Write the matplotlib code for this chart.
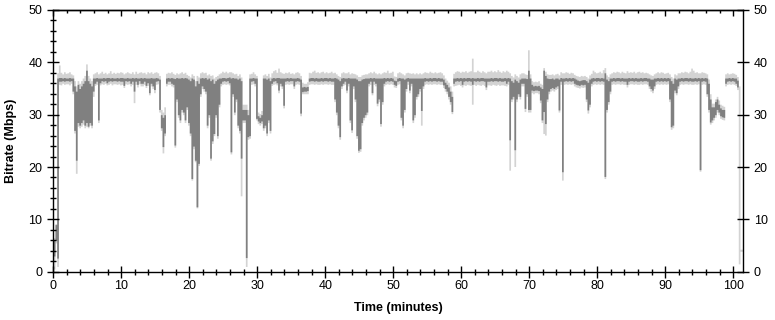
import numpy as np
import matplotlib
matplotlib.use("Agg")
import matplotlib.pyplot as plt
from matplotlib.ticker import MultipleLocator

nan = float("nan")
bin_minutes = 0.25  # each value covers a quarter minute

# dark (averaged) series: low / high of each quarter-minute bin (Mbps)
dark_lo = [
    3.0, 6.0, 2.6, 36.4,  36.4, 36.5, 36.4, 36.5,  36.5, 36.4, 36.5, 34.5,  27.0, 21.3, 28.5, 28.0,
    28.5, 29.0, 28.0, 28.5,  27.8, 28.5, 28.0, 34.5,  36.0, 36.4, 29.0, 36.1,  36.5, 36.4, 36.5, 36.1,
    36.4, 36.5, 36.4, 36.5,  36.5, 36.4, 36.5, 36.4,  36.4, 35.6, 36.5, 36.4,  36.5, 36.0, 36.4, 34.5,
    36.4, 35.8, 36.5, 36.0,  36.0, 36.4, 35.6, 36.1,  34.2, 36.0, 35.5, 34.8,  36.4, 36.5, 31.0, 27.5,
    23.9, 26.5, 36.0, 36.4,  36.4, 36.0, 35.8, 24.2,  33.0, 30.0, 29.0, 31.0,  30.5, 29.0, 31.5, 28.5,
    26.5, 17.8, 24.0, 21.3,  12.4, 20.7, 34.0, 35.5,  35.0, 34.5, 28.0, 30.0,  21.7, 25.0, 26.4, 30.0,
    26.0, 32.0, 36.0, 36.4,  36.5, 36.4, 36.5, 36.1,  22.9, 34.0, 30.5, 33.0,  28.0, 27.0, 21.7, 29.0,
    29.0, 2.7, 25.8, 26.0,  36.4, 36.5, 36.0, 29.3,  28.8, 28.5, 28.8, 27.5,  28.0, 26.5, 29.0, 27.0,
    36.0, 36.4, 36.5, 36.1,  34.7, 36.0, 35.5, 31.8,  36.4, 36.5, 36.4, 36.5,  36.5, 35.5, 36.4, 36.5,
    36.4, 30.3, 34.4, 34.5,  34.5, 34.6, 36.4, 36.5,  36.5, 36.4, 36.5, 36.4,  36.4, 36.5, 36.4, 36.5,
    36.5, 36.4, 36.5, 36.4,  36.4, 33.0, 30.5, 28.0,  25.8, 35.5, 36.0, 36.4,  34.7, 36.0, 29.0, 27.1,
    35.5, 33.0, 26.0, 23.2,  23.5, 28.5, 29.5, 30.0,  30.5, 36.0, 36.4, 34.2,  36.4, 36.0, 32.2, 33.0,
    28.3, 32.5, 36.0, 36.4,  36.5, 36.4, 36.5, 36.4,  35.8, 35.6, 36.4, 36.5,  29.5, 28.0, 31.0, 35.0,
    36.4, 34.7, 36.0, 29.0,  30.0, 33.5, 34.0, 35.0,  30.8, 35.5, 36.4, 36.5,  36.4, 36.5, 36.4, 36.5,
    36.5, 36.4, 36.5, 36.4,  36.4, 35.7, 35.0, 34.5,  33.5, 32.5, 30.6, 36.0,  36.4, 36.5, 36.4, 36.5,
    35.8, 36.4, 36.5, 36.4,  36.5, 36.4, 35.8, 36.5,  36.4, 36.5, 36.4, 36.5,  36.5, 36.4, 35.3, 36.4,
    36.4, 36.5, 36.4, 36.5,  36.5, 36.4, 36.5, 36.4,  36.4, 36.5, 36.0, 36.4,  25.2, 33.0, 33.5, 23.3,
    33.0, 34.0, 33.5, 36.0,  36.0, 31.2, 34.0, 31.0,  31.0, 34.7, 34.6, 34.7,  34.7, 34.6, 32.8, 29.0,
    30.6, 28.3, 33.0, 34.5,  35.0, 35.2, 35.0, 35.3,  35.5, 30.9, 36.4, 19.1,  36.4, 36.5, 36.4, 36.5,
    36.4, 36.5, 36.0, 35.8,  35.7, 35.6, 35.8, 35.7,  35.8, 33.0, 30.9, 32.0,  36.0, 36.4, 36.5, 36.4,
    36.5, 36.4, 36.5, 36.4,  18.2, 31.0, 32.5, 34.5,  36.4, 36.5, 36.4, 36.5,  36.5, 36.4, 36.5, 36.4,
    36.4, 35.8, 36.4, 36.5,  36.5, 36.4, 36.5, 36.4,  36.4, 36.5, 36.4, 36.5,  36.5, 36.4, 35.5, 35.0,
    34.7, 35.5, 36.4, 36.5,  36.4, 36.5, 36.4, 36.5,  36.4, 36.5, 33.0, 27.7,  28.0, 34.7, 34.2, 35.5,
    36.4, 36.5, 36.4, 36.5,  36.5, 36.4, 36.5, 36.4,  36.4, 36.5, 36.4, 36.5,  19.5, 36.4, 36.5, 36.4,
    34.0, 31.0, 28.6, 29.0,  29.5, 30.0, 31.0, 30.5,  29.8, 29.6, 29.5, 36.0,  36.4, 36.5, 36.4, 36.5,
    36.4, 36.0, 35.3, 1.6,  nan, nan,
]
dark_hi = [
    6.0, 9.0, 37.0, 37.1,  37.1, 37.0, 37.1, 37.0,  37.0, 37.1, 37.0, 37.0,  35.5, 34.5, 35.8, 35.0,
    35.5, 36.0, 36.5, 38.5,  36.5, 36.0, 35.5, 37.0,  37.0, 37.1, 37.0, 37.0,  37.0, 37.1, 37.0, 37.1,
    37.1, 37.0, 37.1, 37.0,  37.0, 37.1, 37.0, 37.1,  37.1, 37.0, 37.0, 37.1,  37.0, 37.0, 37.1, 37.0,
    37.1, 37.0, 37.0, 37.1,  37.0, 37.1, 37.0, 37.0,  37.0, 37.1, 37.0, 37.0,  37.1, 37.0, 36.8, 30.0,
    29.5, 30.0, 37.0, 37.1,  37.0, 37.1, 37.0, 36.9,  37.1, 37.0, 37.0, 37.1,  37.0, 37.1, 37.0, 36.8,
    36.5, 37.0, 36.8, 35.5,  36.5, 36.0, 37.0, 37.1,  37.0, 37.1, 36.8, 37.0,  36.5, 36.8, 36.0, 36.5,
    36.8, 37.0, 37.0, 37.1,  37.1, 37.0, 37.1, 37.2,  37.0, 37.1, 37.0, 37.0,  36.8, 37.0, 36.5, 31.0,
    31.0, 31.0, 30.0, 37.0,  37.0, 37.1, 37.0, 37.0,  29.8, 29.5, 30.0, 37.0,  37.0, 36.8, 37.0, 36.5,
    37.0, 37.1, 37.0, 37.1,  37.1, 37.0, 37.0, 37.0,  37.0, 37.1, 37.0, 37.1,  37.0, 37.0, 37.0, 37.1,
    37.0, 36.8, 35.3, 35.4,  35.3, 35.4, 37.0, 37.1,  37.1, 37.0, 37.1, 37.0,  37.0, 37.1, 37.0, 37.1,
    37.1, 37.0, 37.1, 37.0,  37.0, 37.1, 37.0, 36.8,  36.5, 37.0, 37.1, 37.0,  37.0, 37.1, 37.0, 37.0,
    37.0, 37.0, 36.8, 36.5,  36.5, 36.8, 36.9, 37.0,  37.0, 37.0, 37.1, 37.0,  37.1, 37.0, 37.0, 37.0,
    37.0, 37.0, 37.1, 37.0,  37.1, 37.0, 37.1, 37.0,  36.6, 36.5, 37.0, 37.1,  37.0, 37.0, 36.8, 37.0,
    37.1, 37.0, 37.0, 37.0,  37.0, 37.0, 37.0, 37.0,  37.0, 37.0, 37.1, 37.0,  37.0, 37.1, 37.0, 37.1,
    37.1, 37.0, 37.1, 37.0,  37.0, 36.8, 36.2, 35.8,  35.3, 34.5, 33.5, 37.0,  37.0, 37.1, 37.0, 37.1,
    37.0, 37.1, 37.0, 37.1,  37.1, 37.0, 37.1, 37.0,  37.0, 37.1, 37.0, 37.1,  37.1, 37.0, 37.0, 37.0,
    37.0, 37.1, 37.0, 37.1,  37.1, 37.0, 37.1, 37.0,  37.0, 37.1, 37.0, 37.1,  37.0, 36.5, 36.2, 36.8,
    36.5, 36.2, 36.8, 37.0,  37.0, 37.0, 36.9, 38.5,  37.0, 35.8, 35.5, 35.6,  35.5, 35.6, 35.3, 35.0,
    38.5, 37.5, 37.0, 36.9,  36.9, 37.0, 36.8, 37.0,  37.0, 36.8, 37.1, 37.0,  37.0, 37.1, 37.0, 37.1,
    37.0, 37.1, 37.0, 36.8,  36.6, 36.5, 36.6, 36.7,  36.7, 36.5, 36.2, 36.8,  37.0, 37.1, 37.0, 37.1,
    37.1, 37.0, 37.1, 37.0,  38.0, 36.8, 36.5, 37.0,  37.0, 37.1, 37.0, 37.1,  37.1, 37.0, 37.1, 37.0,
    37.0, 37.0, 37.1, 37.0,  37.1, 37.0, 37.1, 37.0,  37.0, 37.1, 37.0, 37.1,  37.1, 37.0, 37.0, 36.8,
    36.8, 37.0, 37.0, 37.1,  37.0, 37.1, 37.0, 37.1,  37.0, 37.1, 37.0, 36.5,  36.0, 37.0, 36.8, 37.0,
    37.0, 37.1, 37.0, 37.1,  37.1, 37.0, 37.1, 37.0,  37.0, 37.1, 37.0, 37.1,  37.0, 37.1, 37.0, 37.1,
    37.0, 36.0, 33.0, 31.5,  31.5, 32.5, 33.0, 32.0,  31.3, 31.0, 31.0, 37.0,  37.0, 37.1, 37.0, 37.1,
    37.0, 37.0, 36.6, 35.0,  nan, nan,
]
# light (peak) series: low / high of each quarter-minute bin (Mbps)
light_lo = [
    0.5, 5.5, 1.0, 35.8,  35.7, 36.0, 35.8, 35.9,  35.9, 35.7, 36.0, 34.0,  26.5, 18.8, 27.8, 27.5,
    27.8, 28.2, 27.5, 27.8,  27.5, 28.0, 27.5, 33.5,  35.6, 35.8, 28.5, 35.7,  35.9, 35.8, 36.0, 35.7,
    35.8, 36.0, 35.7, 35.9,  35.9, 35.8, 35.9, 35.7,  35.8, 35.2, 35.9, 35.8,  35.9, 35.5, 35.8, 32.3,
    35.8, 35.3, 35.9, 35.5,  35.5, 35.8, 35.2, 35.6,  33.8, 35.5, 35.0, 34.2,  35.8, 35.9, 30.5, 27.0,
    22.7, 26.0, 35.5, 35.8,  35.8, 35.5, 35.3, 23.8,  32.5, 29.5, 28.5, 30.5,  30.0, 28.5, 31.0, 28.0,
    26.0, 17.5, 23.5, 21.0,  12.2, 20.3, 33.5, 35.0,  34.5, 34.0, 27.5, 29.5,  21.3, 24.5, 26.0, 29.5,
    25.5, 31.5, 35.5, 35.8,  35.9, 35.8, 35.9, 35.7,  22.5, 33.5, 30.0, 32.5,  27.5, 26.5, 14.5, 28.5,
    28.5, 1.0, 25.3, 25.5,  35.8, 35.9, 35.5, 29.0,  28.3, 28.0, 28.3, 27.0,  27.5, 26.0, 28.5, 26.5,
    35.6, 35.8, 35.9, 35.7,  34.2, 35.5, 35.0, 31.3,  35.8, 35.9, 35.8, 35.9,  35.9, 35.0, 35.8, 35.9,
    35.8, 29.8, 34.0, 34.0,  34.0, 34.0, 35.8, 35.9,  35.9, 35.8, 35.9, 35.8,  35.8, 35.9, 35.8, 35.9,
    35.9, 35.8, 35.9, 35.8,  35.8, 32.5, 30.0, 27.5,  25.3, 35.0, 35.6, 35.8,  34.2, 35.5, 28.5, 26.6,
    35.0, 32.5, 25.5, 22.8,  23.0, 28.0, 29.0, 29.5,  30.0, 35.5, 35.8, 33.8,  35.8, 35.5, 31.7, 32.5,
    27.8, 32.0, 35.5, 35.8,  35.9, 35.8, 35.9, 35.8,  35.3, 35.2, 35.8, 35.9,  29.0, 27.5, 30.5, 34.5,
    35.8, 34.2, 35.5, 28.5,  29.5, 33.0, 33.5, 34.5,  28.0, 35.0, 35.8, 35.9,  35.8, 35.9, 35.8, 35.9,
    35.9, 35.8, 35.9, 35.8,  35.8, 35.2, 34.5, 34.0,  33.0, 32.0, 30.2, 35.5,  35.6, 35.7, 35.8, 35.6,
    35.3, 35.7, 35.6, 35.8,  35.7, 35.6, 32.0, 35.8,  35.6, 35.8, 35.7, 35.6,  35.8, 35.6, 34.8, 35.7,
    35.7, 35.6, 35.8, 35.7,  35.6, 35.8, 35.6, 35.7,  35.7, 35.6, 35.5, 35.8,  19.4, 32.5, 33.0, 20.1,
    32.5, 33.5, 33.0, 35.5,  35.5, 30.6, 33.5, 30.5,  30.5, 34.2, 34.0, 34.2,  34.2, 34.0, 32.3, 28.5,
    26.4, 26.1, 32.5, 34.0,  34.5, 34.7, 34.5, 34.8,  35.0, 30.5, 35.8, 17.5,  35.8, 35.9, 35.8, 35.9,
    35.8, 35.9, 35.5, 35.3,  35.2, 35.1, 35.3, 35.2,  35.3, 32.5, 30.3, 31.5,  35.5, 35.8, 35.9, 35.8,
    35.9, 35.8, 35.9, 35.8,  17.8, 30.5, 32.0, 34.0,  35.8, 35.9, 35.8, 35.9,  35.9, 35.8, 35.9, 35.8,
    35.8, 35.3, 35.8, 35.9,  35.9, 35.8, 35.9, 35.8,  35.8, 35.9, 35.8, 35.9,  35.9, 35.8, 35.0, 34.5,
    34.2, 35.0, 35.8, 35.9,  35.8, 35.9, 35.8, 35.9,  35.8, 35.9, 32.5, 27.2,  27.5, 34.2, 33.8, 35.0,
    35.8, 35.9, 35.8, 35.9,  35.9, 35.8, 35.9, 35.8,  35.8, 35.9, 35.8, 35.9,  19.2, 35.8, 35.9, 35.8,
    33.5, 30.5, 28.2, 28.5,  29.0, 29.5, 30.5, 30.0,  29.3, 29.1, 29.0, 35.5,  35.8, 35.9, 35.8, 35.9,
    35.8, 35.6, 34.8, 1.5,  3.9, 3.9,
]
light_hi = [
    6.5, 9.2, 38.0, 39.5,  38.1, 37.8, 38.2, 37.9,  38.0, 38.2, 37.8, 37.6,  36.5, 35.5, 36.5, 36.0,
    36.5, 37.0, 37.5, 39.7,  37.5, 37.0, 36.5, 37.8,  38.0, 38.2, 37.8, 38.0,  38.3, 37.9, 38.1, 37.8,
    38.0, 38.4, 37.9, 38.1,  37.9, 38.1, 38.0, 38.2,  38.1, 37.8, 38.0, 38.2,  38.0, 37.9, 38.2, 37.8,
    38.3, 37.9, 38.1, 38.2,  38.0, 38.1, 37.8, 38.2,  38.0, 38.2, 37.9, 38.1,  38.2, 38.0, 37.5, 31.0,
    30.5, 31.5, 37.9, 38.1,  38.0, 38.2, 37.9, 37.7,  38.0, 37.8, 38.0, 38.2,  37.9, 38.1, 37.7, 37.5,
    37.2, 37.8, 37.5, 36.5,  37.5, 37.2, 38.0, 38.2,  38.0, 38.1, 37.6, 37.8,  37.5, 37.6, 37.0, 37.3,
    37.5, 37.8, 38.0, 38.3,  38.1, 38.3, 38.0, 38.2,  38.2, 38.0, 37.8, 37.9,  37.5, 37.8, 37.2, 32.0,
    32.0, 32.0, 31.0, 37.8,  37.9, 38.2, 37.8, 37.5,  30.5, 30.2, 30.8, 37.6,  37.8, 37.5, 37.9, 37.2,
    38.0, 38.4, 38.6, 38.1,  38.9, 38.2, 38.0, 37.9,  38.1, 38.0, 38.2, 37.9,  38.0, 37.8, 38.1, 38.2,
    38.0, 37.5, 36.2, 36.0,  36.0, 36.3, 38.1, 38.0,  38.3, 38.5, 38.1, 38.2,  38.0, 38.2, 38.3, 38.0,
    38.2, 38.0, 38.1, 38.3,  38.0, 38.1, 37.8, 37.5,  37.3, 38.0, 38.2, 38.0,  38.0, 38.2, 37.8, 38.0,
    37.9, 37.8, 37.6, 37.3,  37.3, 37.6, 37.7, 37.8,  37.8, 38.0, 38.2, 38.0,  38.3, 38.0, 37.8, 38.0,
    37.8, 38.0, 38.2, 38.1,  38.5, 38.0, 38.1, 38.3,  37.4, 37.3, 38.0, 38.2,  38.0, 37.8, 37.6, 38.0,
    38.1, 38.0, 37.9, 38.0,  37.8, 38.0, 37.8, 38.0,  37.8, 38.0, 38.2, 38.1,  38.0, 38.3, 38.1, 38.0,
    38.2, 38.0, 38.1, 38.2,  38.0, 37.6, 37.0, 36.6,  36.2, 35.5, 34.5, 37.9,  38.2, 38.4, 38.3, 38.1,
    38.3, 38.2, 38.4, 38.1,  38.3, 38.4, 40.8, 38.2,  38.2, 38.5, 38.3, 38.1,  38.4, 38.2, 38.0, 38.3,
    38.3, 38.5, 38.2, 38.4,  38.2, 38.6, 38.3, 38.1,  38.4, 38.2, 38.5, 38.3,  38.0, 37.5, 37.2, 37.8,
    37.5, 37.2, 37.8, 38.0,  38.0, 37.8, 37.7, 42.4,  37.8, 36.5, 36.3, 36.4,  36.3, 36.5, 36.0, 35.8,
    39.0, 38.3, 37.8, 37.7,  37.7, 37.8, 37.6, 37.8,  37.9, 37.6, 38.2, 38.0,  38.0, 38.2, 38.1, 37.9,
    38.1, 38.0, 37.7, 37.5,  37.4, 37.3, 37.5, 37.4,  37.5, 37.3, 37.0, 37.6,  37.9, 38.5, 38.2, 38.0,
    38.1, 38.3, 38.0, 38.6,  39.0, 37.6, 37.3, 37.8,  38.0, 38.2, 38.1, 38.3,  38.2, 38.0, 38.3, 38.1,
    38.0, 38.4, 38.1, 38.2,  38.1, 38.3, 38.0, 38.2,  38.3, 38.1, 38.2, 38.0,  38.1, 38.0, 37.8, 37.6,
    37.5, 37.8, 38.0, 38.2,  38.0, 38.2, 38.1, 37.9,  38.0, 38.1, 37.8, 37.3,  37.0, 37.8, 37.6, 38.0,
    38.0, 38.2, 38.1, 38.3,  38.2, 38.0, 38.3, 38.9,  38.5, 38.1, 38.2, 38.0,  38.0, 38.2, 38.1, 38.0,
    37.8, 36.8, 34.0, 32.2,  32.2, 33.0, 33.5, 32.8,  32.0, 31.8, 31.6, 37.8,  38.0, 37.8, 37.9, 38.0,
    37.9, 37.7, 37.3, 35.5,  4.3, 4.3,
]

x_ticks = [0, 10, 20, 30, 40, 50, 60, 70, 80, 90, 100]
y_ticks = [0, 10, 20, 30, 40, 50]

plt.rcParams["font.family"] = ["Liberation Sans", "DejaVu Sans"]

fig = plt.figure(figsize=(7.75, 3.2), dpi=100)
ax = fig.add_axes([53.3 / 775, 48.3 / 320, (742.7 - 53.3) / 775, (271.7 - 10) / 320])

n = len(dark_lo)
t = np.arange(n + 1) * bin_minutes


def ext(a):
    a = np.asarray(a, dtype=float)
    return np.append(a, a[-1])


ax.fill_between(t, ext(light_lo), ext(light_hi), step="post",
                color="#d3d3d3", linewidth=0)
ax.fill_between(t, ext(dark_lo), ext(dark_hi), step="post",
                color="#808080", linewidth=0)

ax.set_xlim(0, 101.4)
ax.set_ylim(0, 50)
ax.set_xticks(x_ticks)
ax.set_yticks(y_ticks)
ax.xaxis.set_minor_locator(MultipleLocator(2))
ax.yaxis.set_minor_locator(MultipleLocator(2))

ax.tick_params(axis="both", which="major", direction="inout", length=8,
               width=1, labelsize=9, colors="black", pad=2)
ax.tick_params(axis="both", which="minor", direction="inout", length=4, width=1)
ax.tick_params(axis="y", left=True, right=True, labelleft=True, labelright=True, pad=4)
ax.tick_params(axis="x", top=False)

top = ax.secondary_xaxis("top")
top.set_xticks(x_ticks)
top.xaxis.set_minor_locator(MultipleLocator(2))
top.tick_params(which="major", direction="in", length=4, width=1, labeltop=False)
top.tick_params(which="minor", direction="in", length=2.5, width=1)
top.spines["top"].set_linewidth(1)

for s in ax.spines.values():
    s.set_linewidth(1)
    s.set_color("black")

ax.set_xlabel("Time (minutes)", fontsize=9, fontweight="bold", labelpad=7)
ax.set_ylabel("Bitrate (Mbps)", fontsize=9, fontweight="bold", labelpad=8)

fig.savefig("out.png", dpi=100)
